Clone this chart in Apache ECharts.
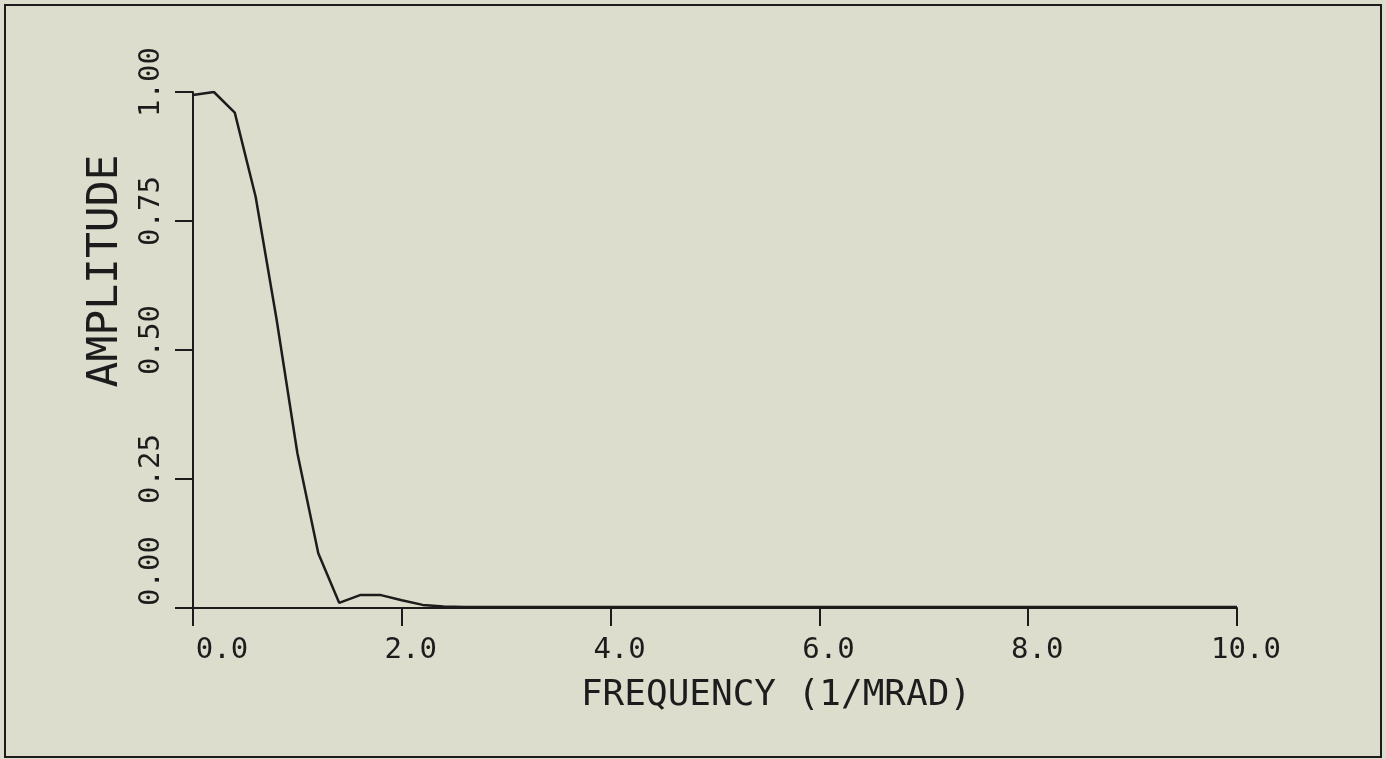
<!DOCTYPE html>
<html>
<head>
<meta charset="utf-8">
<script src="https://cdn.jsdelivr.net/npm/echarts@6/dist/echarts.min.js"></script>
<style>
  html, body { margin: 0; padding: 0; background: #dcddcd; }
  #frame { position: absolute; left: 4px; top: 4px; width: 1374px; height: 750px; border: 2px solid #1c1c1c; }
  #chart { position: absolute; left: 0; top: 0; width: 1386px; height: 759px; }
</style>
</head>
<body>
<div id="frame"></div>
<div id="chart"></div>
<script>
// Data
const frequency = [0.0, 0.2, 0.4, 0.6, 0.8, 1.0, 1.2, 1.4, 1.6, 1.8,
                   2.0, 2.2, 2.4, 2.6, 2.8, 3.0, 3.2, 3.4, 3.6, 3.8,
                   4.0, 4.2, 4.4, 4.6, 4.8, 5.0, 5.2, 5.4, 5.6, 5.8,
                   6.0, 6.2, 6.4, 6.6, 6.8, 7.0, 7.2, 7.4, 7.6, 7.8,
                   8.0, 8.2, 8.4, 8.6, 8.8, 9.0, 9.2, 9.4, 9.6, 9.8, 10.0];
const amplitude = [0.994, 1.000, 0.960, 0.797, 0.560, 0.300, 0.106, 0.010, 0.025, 0.025,
                   0.015, 0.006, 0.003, 0.002, 0.002, 0.002, 0.002, 0.002, 0.002, 0.002,
                   0.002, 0.002, 0.002, 0.002, 0.002, 0.002, 0.002, 0.002, 0.002, 0.002,
                   0.002, 0.002, 0.002, 0.002, 0.002, 0.002, 0.002, 0.002, 0.002, 0.002,
                   0.002, 0.002, 0.002, 0.002, 0.002, 0.002, 0.002, 0.002, 0.002, 0.002, 0.002];
const xTickValues = [0, 2, 4, 6, 8, 10];
const xTickLabels = ['0.0', '2.0', '4.0', '6.0', '8.0', '10.0'];
const yTickValues = [0, 0.25, 0.5, 0.75, 1.0];
const yTickLabels = ['0.00', '0.25', '0.50', '0.75', '1.00'];
const xTitle = 'FREQUENCY (1/MRAD)';
const yTitle = 'AMPLITUDE';

const ink = '#1c1c1c';
const font = 'DejaVu Sans Mono';

function lookup(values, v) {
  for (let i = 0; i < values.length; i++) {
    if (Math.abs(values[i] - v) < 1e-9) return i;
  }
  return -1;
}

const chart = echarts.init(document.getElementById('chart'));
chart.setOption({
  backgroundColor: 'transparent',
  animation: false,
  grid: { left: 193, right: 149, top: 92, bottom: 151, containLabel: false },
  xAxis: {
    type: 'value', min: 0, max: 10, interval: 2,
    name: xTitle, nameLocation: 'middle', nameGap: 70,
    nameTextStyle: { fontFamily: font, fontSize: 36, color: ink, padding: [0, 0, 0, 122] },
    axisLine: { show: true, onZero: false, lineStyle: { color: ink, width: 2 } },
    axisTick: { show: true, length: 18, lineStyle: { color: ink, width: 2 } },
    splitLine: { show: false },
    axisLabel: {
      margin: 28, fontFamily: font, fontSize: 29, color: ink, padding: [0, 0, 0, 18],
      formatter: function (v) {
        const i = lookup(xTickValues, v);
        if (i < 0) return '';
        return i === 0 ? '{first|' + xTickLabels[i] + '}' : xTickLabels[i];
      },
      rich: { first: { fontFamily: font, fontSize: 29, color: ink, padding: [0, 0, 0, 40] } }
    }
  },
  yAxis: {
    type: 'value', min: 0, max: 1, interval: 0.25,
    name: yTitle, nameLocation: 'middle', nameGap: 66, nameRotate: 90,
    nameTextStyle: { fontFamily: font, fontSize: 43, color: ink, padding: [0, 0, 0, 158] },
    axisLine: { show: true, onZero: false, lineStyle: { color: ink, width: 2 } },
    axisTick: { show: true, length: 18, lineStyle: { color: ink, width: 2 } },
    splitLine: { show: false },
    axisLabel: {
      rotate: 90, margin: 27, fontFamily: font, fontSize: 29, color: ink, padding: [0, 0, 0, 20],
      formatter: function (v) {
        const i = lookup(yTickValues, v);
        if (i < 0) return '';
        return i === 0 ? '{first|' + yTickLabels[i] + '}' : yTickLabels[i];
      },
      rich: { first: { fontFamily: font, fontSize: 29, color: ink, padding: [0, 0, 0, 54] } }
    }
  },
  series: [{
    type: 'line',
    data: frequency.map((f, i) => [f, amplitude[i]]),
    showSymbol: false,
    symbol: 'none',
    lineStyle: { color: ink, width: 2.5 },
    z: 1
  }]
});
</script>
</body>
</html>
